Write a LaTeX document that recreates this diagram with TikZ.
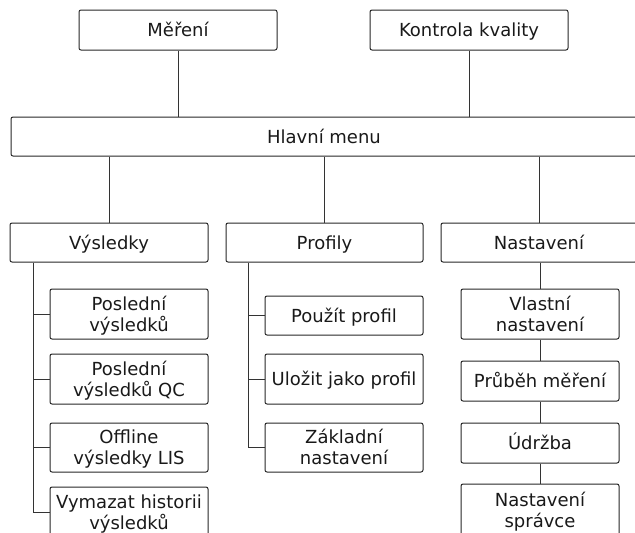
\documentclass[tikz,border=0pt]{standalone}
\usepackage{fontspec}
\setmainfont{DejaVu Sans}
\newcommand\oneln[1]{\raisebox{0pt}[13pt][0pt]{#1}}
\newcommand\twoln[2]{\raisebox{0pt}[34pt][0pt]{\vbox{\baselineskip=21pt\halign{\hfil##\hfil\cr#1\cr#2\cr}}}}
\begin{document}
\begin{tikzpicture}[x=1pt,y=-1pt,
  box/.style={draw=black!85, line width=1pt, rounded corners=2pt, inner sep=0pt,
    font=\fontsize{18}{22}\selectfont, text=black!90},
  conn/.style={draw=black!80, line width=1pt}]
\useasboundingbox (0,0) rectangle (635,533);
\clip (0,0) rectangle (635,533);
% top
\node[box, minimum width=198, minimum height=40] (M) at (178,30) {\oneln{Měření}};
\node[box, minimum width=198, minimum height=40] (K) at (469,30) {\oneln{Kontrola kvality}};
\node[box, minimum width=626, minimum height=39] (H) at (324,136.5) {\oneln{Hlavní menu}};
% second level
\node[box, minimum width=198, minimum height=39] (V) at (109,242.5) {\oneln{Výsledky}};
\node[box, minimum width=197, minimum height=39] (P) at (324.5,242.5) {\oneln{Profily}};
\node[box, minimum width=196, minimum height=39] (N) at (539,242.5) {\oneln{Nastavení}};
% Výsledky children
\node[box, minimum width=158, minimum height=50] (V1) at (129,314) {\twoln{Poslední}{výsledků}};
\node[box, minimum width=158, minimum height=50] (V2) at (129,379) {\twoln{Poslední}{výsledků QC}};
\node[box, minimum width=158, minimum height=49] (V3) at (129,447.5) {\twoln{Offline}{výsledky LIS}};
\node[box, minimum width=158, minimum height=50] (V4) at (129,512) {\twoln{Vymazat historii}{výsledků}};
% Profily children
\node[box, minimum width=158, minimum height=39] (P1) at (344,315.5) {\oneln{Použít profil}};
\node[box, minimum width=158, minimum height=50] (P2) at (344,379) {\oneln{Uložit jako profil}};
\node[box, minimum width=158, minimum height=49] (P3) at (344,447.5) {\twoln{Základní}{nastavení}};
% Nastavení children
\node[box, minimum width=158, minimum height=50] (N1) at (540,314) {\twoln{Vlastní}{nastavení}};
\node[box, minimum width=158, minimum height=40] (N2) at (540,381) {\oneln{Průběh měření}};
\node[box, minimum width=158, minimum height=40] (N3) at (540,443) {\oneln{Údržba}};
\node[box, minimum width=158, minimum height=52] (N4) at (540,510) {\twoln{Nastavení}{správce}};
% connectors top
\draw[conn] (M.south) -- (M.south |- H.north);
\draw[conn] (K.south) -- (K.south |- H.north);
\draw[conn] (H.south -| V.north) -- (V.north);
\draw[conn] (H.south -| P.north) -- (P.north);
\draw[conn] (H.south -| N.north) -- (N.north);
% Výsledky spine
\coordinate (vs) at (33,0);
\draw[conn] (vs |- V.south) |- (V4.west);
\draw[conn] (vs |- V1.west) -- (V1.west);
\draw[conn] (vs |- V2.west) -- (V2.west);
\draw[conn] (vs |- V3.west) -- (V3.west);
% Profily spine
\coordinate (ps) at (248,0);
\draw[conn] (ps |- P.south) |- (P3.west);
\draw[conn] (ps |- P1.west) -- (P1.west);
\draw[conn] (ps |- P2.west) -- (P2.west);
% Nastavení chain
\draw[conn] (N.south -| N1.north) -- (N1.north);
\draw[conn] (N1.south) -- (N2.north);
\draw[conn] (N2.south) -- (N3.north);
\draw[conn] (N3.south) -- (N4.north);
\end{tikzpicture}
\end{document}
